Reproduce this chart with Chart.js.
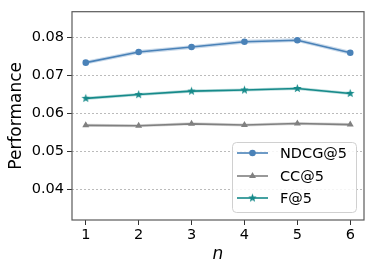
<!DOCTYPE html>
<html><head><meta charset="utf-8">
<script src="https://cdn.jsdelivr.net/npm/chart.js@4/dist/chart.umd.min.js"></script>
<style>html,body{margin:0;padding:0;background:#fff}#wrap{width:374px;height:272px}</style>
</head><body><div id="wrap"><canvas id="c" width="374" height="272"></canvas></div>
<script>
const nValues = [1, 2, 3, 4, 5, 6];
const ndcg = [0.0734, 0.0762, 0.0775, 0.0789, 0.0793, 0.0760];
const ndcgErr = [0.0005, 0.0005, 0.0005, 0.0005, 0.0005, 0.0005];
const cc = [0.0569, 0.0568, 0.0573, 0.0570, 0.0574, 0.0571];
const ccErr = [0.0004, 0.0004, 0.0004, 0.0004, 0.0004, 0.0004];
const fscore = [0.0640, 0.0650, 0.0659, 0.0662, 0.0666, 0.0653];
const fErr = [0.0004, 0.0004, 0.0004, 0.0004, 0.0004, 0.0004];
const yTicks = [0.04, 0.05, 0.06, 0.07, 0.08];
const seriesNames = ['NDCG@5', 'CC@5', 'F@5'];

const FONT = 'DejaVu Sans';
const cBlue = '#4a82b8', cGray = '#808080', cTeal = '#168a8a';

function starImg(color, r) {
  const s = Math.ceil(r * 2 + 2);
  const cv = document.createElement('canvas');
  cv.width = s; cv.height = s;
  const g = cv.getContext('2d');
  g.fillStyle = color;
  g.beginPath();
  for (let i = 0; i < 10; i++) {
    const rad = i % 2 === 0 ? r : r * 0.42;
    const a = -Math.PI / 2 + i * Math.PI / 5;
    const x = s / 2 + rad * Math.cos(a), y = s / 2 + rad * Math.sin(a);
    i ? g.lineTo(x, y) : g.moveTo(x, y);
  }
  g.closePath(); g.fill();
  return cv;
}
const star = starImg(cTeal, 4.5);

const pts = arr => nValues.map((x, i) => ({x, y: arr[i]}));
const band = (vals, err, sign) => nValues.map((x, i) => ({x, y: vals[i] + sign * err[i]}));

function bandSets(vals, err, color) {
  return [
    {data: band(vals, err, 1), borderWidth: 0, pointRadius: 0, fill: false, order: 10, showLine: true, borderColor: 'rgba(0,0,0,0)'},
    {data: band(vals, err, -1), borderWidth: 0, pointRadius: 0, fill: '-1', backgroundColor: color, order: 10, showLine: true, borderColor: 'rgba(0,0,0,0)'}
  ];
}

const datasets = [
  ...bandSets(ndcg, ndcgErr, 'rgba(74,130,184,0.3)'),
  ...bandSets(cc, ccErr, 'rgba(128,128,128,0.3)'),
  ...bandSets(fscore, fErr, 'rgba(22,138,138,0.3)'),
  {label: seriesNames[0], data: pts(ndcg), borderColor: cBlue, backgroundColor: cBlue, borderWidth: 1.6, pointStyle: 'circle', pointRadius: 3.3, pointBorderWidth: 0, order: 1, showLine: true},
  {label: seriesNames[1], data: pts(cc), borderColor: cGray, backgroundColor: cGray, borderWidth: 1.6, pointStyle: 'triangle', pointRadius: 4, pointBorderWidth: 0, order: 1, showLine: true},
  {label: seriesNames[2], data: pts(fscore), borderColor: cTeal, backgroundColor: cTeal, borderWidth: 1.6, pointStyle: star, pointRadius: 4, pointBorderWidth: 0, order: 1, showLine: true}
];

const frameAndLegend = {
  id: 'frameAndLegend',
  afterDraw(chart) {
    const ctx = chart.ctx, a = chart.chartArea;
    ctx.save();
    ctx.strokeStyle = '#5a5a5a';
    ctx.lineWidth = 1.2;
    ctx.strokeRect(a.left, a.top, a.right - a.left, a.bottom - a.top);
    // legend
    const bx = 232, by = 142, bw = 124, bh = 70, r = 4;
    ctx.fillStyle = 'rgba(255,255,255,0.85)';
    ctx.strokeStyle = '#d0d0d0';
    ctx.lineWidth = 1;
    ctx.beginPath();
    ctx.roundRect(bx + 0.5, by + 0.5, bw, bh, r);
    ctx.fill(); ctx.stroke();
    const rows = [153, 176, 198];
    const lineSets = chart.data.datasets.filter(d => d.label);
    lineSets.forEach((d, i) => {
      const y = rows[i];
      ctx.strokeStyle = d.borderColor; ctx.lineWidth = 1.6;
      ctx.beginPath(); ctx.moveTo(237, y); ctx.lineTo(268, y); ctx.stroke();
      ctx.fillStyle = d.backgroundColor; ctx.strokeStyle = d.backgroundColor;
      Chart.helpers.drawPoint(ctx, {pointStyle: d.pointStyle, radius: d.pointRadius, rotation: 0, borderWidth: 0}, 252.5, y);
      ctx.fillStyle = '#000';
      ctx.font = '14.5px ' + FONT;
      ctx.textBaseline = 'middle';
      ctx.textAlign = 'left';
      ctx.fillText(d.label, 280, y + 1);
    });
    ctx.restore();
  }
};

new Chart(document.getElementById('c'), {
  type: 'scatter',
  data: {datasets},
  options: {
    responsive: false,
    animation: false,
    layout: {padding: {top: 10, right: 10, left: 0, bottom: 0}},
    plugins: {legend: {display: false}, tooltip: {enabled: false}},
    scales: {
      x: {
        type: 'linear', min: 0.74, max: 6.26,
        afterBuildTicks: s => { s.ticks = nValues.map(v => ({value: v})); },
        afterFit: s => { s.height = 52; },
        grid: {display: true, drawOnChartArea: false, drawTicks: true, tickLength: 5, tickColor: '#333', tickWidth: 1},
        border: {display: false},
        ticks: {color: '#000', font: {family: FONT, size: 14.5}, padding: 2, maxRotation: 0, callback: v => String(v)},
        title: {display: true, text: 'n', color: '#000', font: {family: FONT, size: 17, style: 'italic'}, padding: {top: 0, bottom: 7}}
      },
      y: {
        min: 0.032, max: 0.0868,
        afterBuildTicks: s => { s.ticks = yTicks.map(v => ({value: v})); },
        afterFit: s => { s.width = 72; },
        grid: {color: '#aaaaaa', lineWidth: 0.8, drawTicks: true, tickLength: 5, tickColor: '#333', tickWidth: 1, tickBorderDash: []},
        border: {display: false, dash: [2, 2]},
        ticks: {color: '#000', font: {family: FONT, size: 14.5}, padding: 3, callback: v => v.toFixed(2)},
        title: {display: true, text: 'Performance', color: '#000', font: {family: FONT, size: 17}, padding: {top: 6, bottom: 0}}
      }
    }
  },
  plugins: [frameAndLegend]
});
</script></body></html>
